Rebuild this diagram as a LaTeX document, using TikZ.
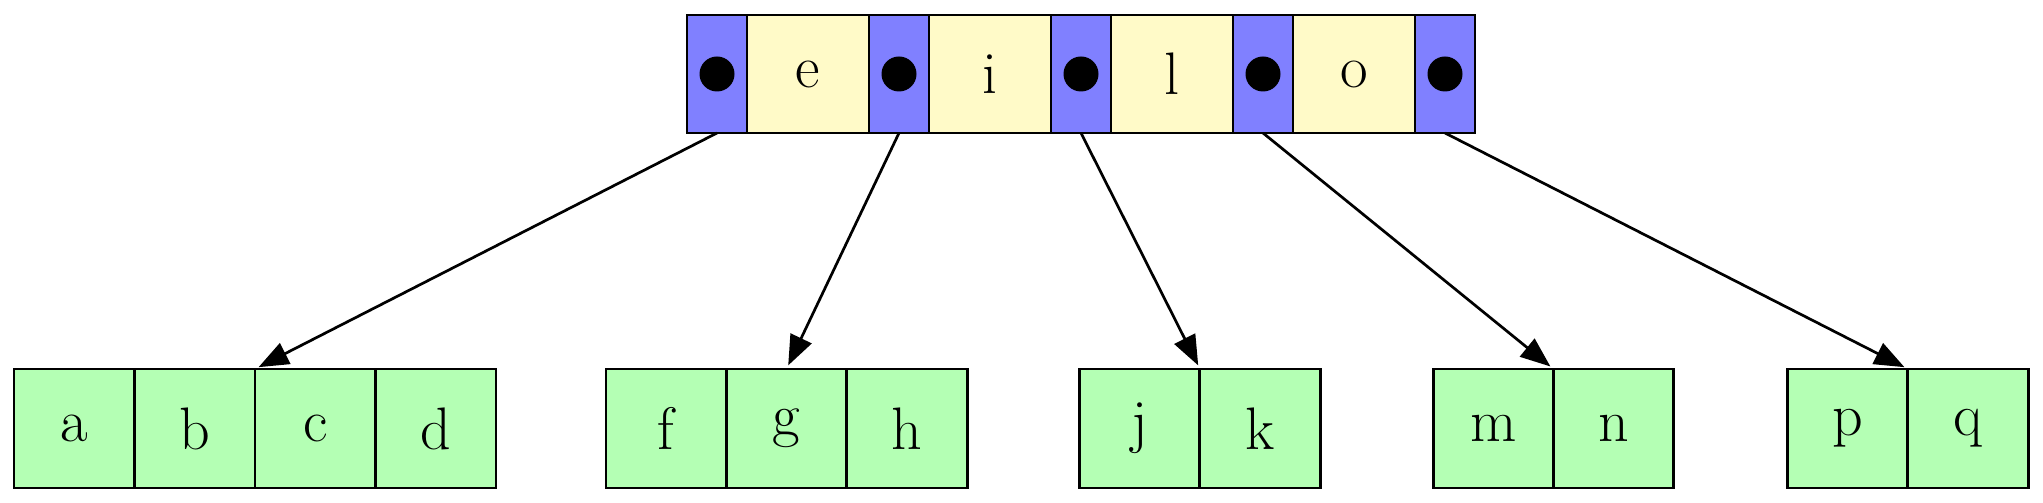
\documentclass[tikz,border=0pt]{standalone}
\usepackage{fontspec}
\usetikzlibrary{arrows.meta,fit}
\definecolor{ptrblue}{RGB}{128,128,255}
\definecolor{keyyellow}{RGB}{255,250,200}
\definecolor{leafgreen}{RGB}{180,255,180}
\begin{document}
\begin{tikzpicture}[x=1pt,y=1pt,
  cell/.style={draw=black, line width=2.9pt, rectangle, inner sep=0pt, outer sep=0pt, font=\fontsize{60}{61}\selectfont},
  ptr/.style={cell, fill=ptrblue, minimum width=60pt, minimum height=118pt},
  keycell/.style={cell, fill=keyyellow, minimum width=122pt, minimum height=118pt},
  leaf/.style={cell, fill=leafgreen, minimum width=120.5pt, minimum height=119pt},
  dotmark/.style={circle, fill=black, draw=none, inner sep=0pt, minimum size=35pt},
  grp/.style={inner sep=0pt, outer sep=0pt},
  link/.style={line width=2.7pt, -{Triangle[length=30pt,width=23pt]}, shorten >=4pt}
]
\useasboundingbox (0,0) rectangle (2043,503);
% internal node
\node[ptr] (p0) at (717,429) {};
\node[keycell] (ke) at (808,429) {e};
\node[ptr] (p1) at (899,429) {};
\node[keycell] (ki) at (990,429) {i};
\node[ptr] (p2) at (1081,429) {};
\node[keycell] (kl) at (1172,429) {l};
\node[ptr] (p3) at (1263,429) {};
\node[keycell] (ko) at (1354,429) {o};
\node[ptr] (p4) at (1445,429) {};
\node[dotmark] (d0) at (p0) {};
\node[dotmark] (d1) at (p1) {};
\node[dotmark] (d2) at (p2) {};
\node[dotmark] (d3) at (p3) {};
\node[dotmark] (d4) at (p4) {};
% leaves
\node[leaf] (la) at (74.25,74.5) {a};
\node[leaf] (lb) at (194.75,74.5) {b};
\node[leaf] (lc) at (315.25,74.5) {c};
\node[leaf] (ld) at (435.75,74.5) {d};
\node[leaf] (lf) at (666.2,74.5) {f};
\node[leaf] (lg) at (786.5,74.5) {g};
\node[leaf] (lh) at (906.8,74.5) {h};
\node[leaf] (lj) at (1140,74.5) {j};
\node[leaf] (lk) at (1260,74.5) {k};
\node[leaf] (lm) at (1493.5,74.5) {m};
\node[leaf] (ln) at (1613.5,74.5) {n};
\node[leaf] (lp) at (1848,74.5) {p};
\node[leaf] (lq) at (1968,74.5) {q};
\node[grp, fit=(la)(ld)] (g1) {};
\node[grp, fit=(lf)(lh)] (g2) {};
\node[grp, fit=(lj)(lk)] (g3) {};
\node[grp, fit=(lm)(ln)] (g4) {};
\node[grp, fit=(lp)(lq)] (g5) {};
% links
\draw[link] (p0.south) -- (g1.north);
\draw[link] (p1.south) -- (g2.north);
\draw[link] (p2.south) -- (g3.north);
\draw[link] (p3.south) -- (g4.north);
\draw[link] (p4.south) -- (g5.north);
\end{tikzpicture}
\end{document}
